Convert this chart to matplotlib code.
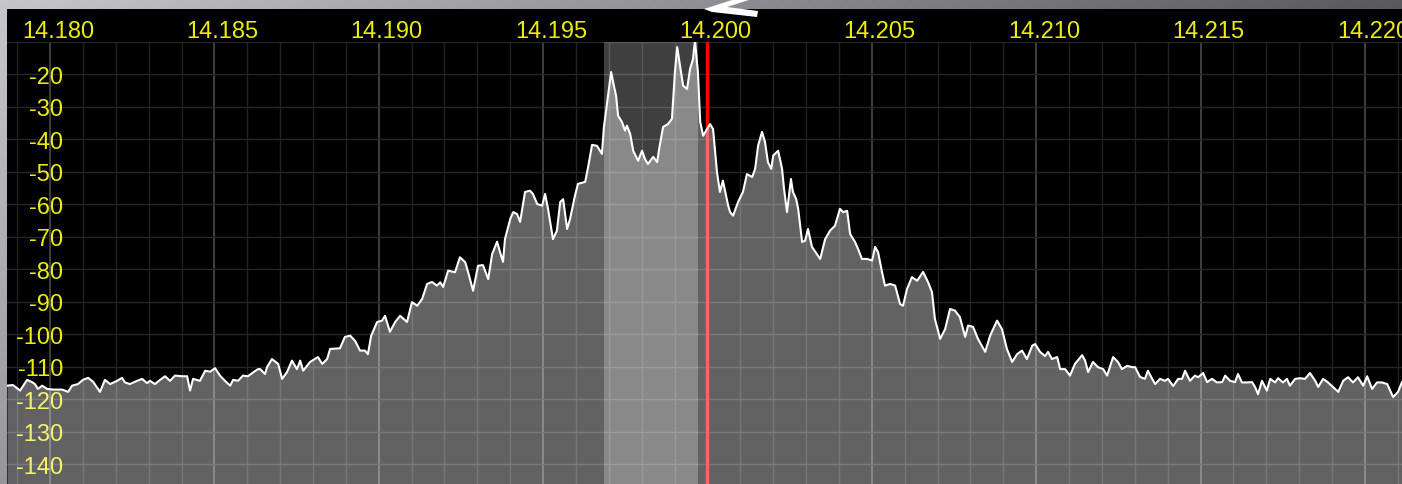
import numpy as np
import matplotlib
matplotlib.use("Agg")
import matplotlib.pyplot as plt
from matplotlib.transforms import ScaledTranslation
from matplotlib.patches import Rectangle, Polygon

# spectrum trace: frequency (kHz) and level (dB)
freq_khz = [
    14178.69, 14178.87, 14179.09, 14179.30, 14179.45, 14179.54, 14179.63, 14179.76, 14179.91, 14180.09,
    14180.37, 14180.55, 14180.67, 14180.85, 14181.00, 14181.16, 14181.31, 14181.52, 14181.67, 14181.83,
    14182.04, 14182.19, 14182.28, 14182.43, 14182.65, 14182.80, 14182.95, 14183.04, 14183.19, 14183.35,
    14183.50, 14183.65, 14183.80, 14184.02, 14184.17, 14184.26, 14184.35, 14184.56, 14184.72, 14184.87,
    14185.02, 14185.17, 14185.32, 14185.48, 14185.57, 14185.72, 14185.87, 14186.02, 14186.18, 14186.33,
    14186.39, 14186.54, 14186.60, 14186.75, 14186.94, 14187.06, 14187.21, 14187.36, 14187.51, 14187.61,
    14187.70, 14187.91, 14188.15, 14188.28, 14188.43, 14188.52, 14188.82, 14188.97, 14189.13, 14189.28,
    14189.43, 14189.58, 14189.67, 14189.77, 14189.95, 14190.10, 14190.19, 14190.34, 14190.50, 14190.65,
    14190.86, 14191.01, 14191.17, 14191.32, 14191.47, 14191.62, 14191.77, 14191.87, 14191.96, 14192.11,
    14192.32, 14192.47, 14192.63, 14192.72, 14192.87, 14193.02, 14193.17, 14193.33, 14193.45, 14193.60,
    14193.69, 14193.78, 14193.84, 14194.00, 14194.09, 14194.21, 14194.30, 14194.45, 14194.60, 14194.69,
    14194.82, 14194.97, 14195.06, 14195.15, 14195.30, 14195.42, 14195.52, 14195.61, 14195.73, 14195.82,
    14195.97, 14196.06, 14196.28, 14196.37, 14196.49, 14196.64, 14196.79, 14196.85, 14196.95, 14197.07,
    14197.13, 14197.22, 14197.28, 14197.40, 14197.49, 14197.55, 14197.65, 14197.74, 14197.89, 14198.01,
    14198.10, 14198.19, 14198.35, 14198.47, 14198.53, 14198.65, 14198.80, 14198.92, 14199.01, 14199.08,
    14199.17, 14199.26, 14199.38, 14199.47, 14199.56, 14199.62, 14199.71, 14199.78, 14199.87, 14199.99,
    14200.08, 14200.17, 14200.29, 14200.38, 14200.47, 14200.63,
    14200.69, 14200.78, 14200.93, 14201.08, 14201.20, 14201.36, 14201.45, 14201.54, 14201.66, 14201.75,
    14201.84, 14201.94, 14202.00, 14202.15, 14202.27, 14202.33, 14202.42, 14202.54, 14202.60, 14202.70,
    14202.76, 14202.88, 14202.97, 14203.06, 14203.18, 14203.33, 14203.43, 14203.58, 14203.73, 14203.88,
    14204.03, 14204.13, 14204.25, 14204.34, 14204.49, 14204.58, 14204.70, 14204.86, 14205.01, 14205.10,
    14205.19, 14205.31, 14205.40, 14205.56, 14205.71, 14205.86, 14205.95, 14206.07, 14206.22, 14206.38,
    14206.56, 14206.71, 14206.83, 14206.92, 14207.08, 14207.23, 14207.38, 14207.53, 14207.68, 14207.84,
    14207.93, 14208.08, 14208.23, 14208.45, 14208.60, 14208.81, 14208.96, 14209.11, 14209.27, 14209.42,
    14209.57, 14209.72, 14209.88, 14209.97, 14210.12, 14210.27, 14210.36, 14210.48, 14210.64, 14210.73,
    14210.88, 14211.03, 14211.18, 14211.40, 14211.49, 14211.58, 14211.73, 14211.88, 14212.04, 14212.16,
    14212.34, 14212.49, 14212.61, 14212.77, 14212.92, 14213.01, 14213.16, 14213.31, 14213.40, 14213.53,
    14213.62, 14213.77, 14213.92, 14214.01, 14214.17, 14214.32, 14214.44, 14214.53, 14214.68,
    14214.83, 14214.93, 14215.08, 14215.20, 14215.35, 14215.50, 14215.66, 14215.75, 14215.90, 14216.05,
    14216.14, 14216.26, 14216.42, 14216.57, 14216.66, 14216.75, 14216.87, 14217.02, 14217.12, 14217.27,
    14217.36, 14217.51, 14217.63, 14217.72, 14217.88, 14218.03, 14218.18, 14218.33, 14218.49, 14218.58,
    14218.73, 14218.88, 14219.03, 14219.19, 14219.34, 14219.49, 14219.64, 14219.79, 14219.95, 14220.07,
    14220.22, 14220.37, 14220.52, 14220.68, 14220.77, 14220.86, 14221.01, 14221.13,
]
level_db = [
    -115.9, -115.7, -117.4, -114.1, -114.8, -115.4, -116.9, -115.9, -116.9, -117.1,
    -117.1, -117.8, -115.9, -115.4, -114.1, -113.5, -114.7, -117.8, -114.1, -115.4,
    -114.4, -113.5, -114.9, -115.4, -114.4, -113.8, -115.1, -114.4, -115.4, -114.1,
    -113.0, -114.4, -112.8, -113.0, -113.0, -117.4, -113.8, -114.4, -111.3, -111.6,
    -110.5, -112.8, -114.4, -115.9, -114.1, -114.4, -112.8, -113.0, -111.8, -110.8,
    -110.8, -112.3, -110.2, -107.7, -109.2, -113.8, -111.7, -108.2, -110.8, -108.2,
    -111.3, -108.6, -107.1, -109.2, -107.7, -104.6, -104.4, -100.9, -100.5, -102.1,
    -105.1, -105.1, -106.2, -100.5, -96.3, -95.9, -94.4, -99.3, -96.3, -94.4,
    -96.3, -90.2, -91.3, -89.2, -84.6, -84.0, -85.1, -84.1, -85.5, -80.5,
    -81.0, -76.4, -77.9, -81.0, -86.7, -79.0, -78.8, -83.1, -75.4, -71.6,
    -74.8, -77.8, -70.8, -64.6, -62.5, -63.1, -65.5, -56.3, -55.9, -56.9,
    -60.0, -60.5, -56.9, -61.5, -70.8, -68.2, -59.4, -58.5, -67.7, -64.6,
    -57.4, -53.8, -53.2, -48.6, -41.8, -42.1, -44.6, -36.3, -28.6, -19.4,
    -22.5, -26.7, -32.8, -34.8, -37.4, -35.9, -38.5, -43.6, -46.7, -43.6,
    -46.2, -47.7, -45.5, -47.1, -43.1, -36.3, -35.4, -33.8, -19.4, -11.7,
    -17.8, -23.6, -24.6, -18.5, -15.4, -9.8, -19.4, -34.8, -39.0, -36.9,
    -35.4, -36.9, -50.2, -56.3, -52.8, -60.5,
    -62.5, -63.6, -59.4, -56.3, -50.8, -51.7, -49.2, -42.1, -37.8, -40.9,
    -47.1, -49.2, -45.1, -43.6, -49.2, -55.4, -62.5, -52.3, -56.3, -58.5,
    -61.5, -71.7, -71.3, -67.7, -73.2, -75.4, -76.9, -70.8, -68.2, -66.7,
    -61.5, -62.5, -62.1, -69.2, -71.7, -73.8, -76.9, -76.9, -77.4, -73.2,
    -74.8, -80.9, -85.1, -84.6, -85.1, -90.8, -91.3, -86.2, -82.5, -83.6,
    -80.9, -84.0, -87.1, -95.4, -101.5, -98.5, -92.3, -92.8, -94.8, -100.9,
    -97.4, -97.8, -101.5, -105.5, -100.5, -95.9, -98.5, -104.6, -108.6, -106.2,
    -105.1, -107.7, -103.6, -103.1, -105.5, -106.8, -105.5, -107.7, -107.1, -110.8,
    -110.8, -112.8, -109.2, -106.5, -108.2, -111.7, -108.6, -110.2, -110.8, -112.8,
    -107.1, -108.6, -110.8, -109.8, -110.2, -110.2, -113.2, -113.8, -111.3, -113.8,
    -115.4, -113.8, -114.4, -113.8, -116.0, -113.8, -113.8, -111.3, -114.4,
    -112.8, -113.3, -112.0, -114.8, -113.8, -114.9, -114.8, -112.8, -114.4, -114.8,
    -112.3, -114.9, -114.9, -114.8, -116.3, -118.5, -114.4, -117.4, -113.8, -114.9,
    -113.6, -114.9, -113.8, -115.9, -113.8, -113.6, -113.8, -112.0, -114.4, -116.3,
    -113.8, -114.9, -116.3, -117.8, -114.4, -113.3, -114.9, -113.3, -115.9, -113.0,
    -116.9, -114.9, -114.9, -115.4, -117.4, -119.4, -117.8, -114.8,
]

x_ticks = [14180, 14185, 14190, 14195, 14200, 14205, 14210, 14215, 14220]
x_labels = ["14.180", "14.185", "14.190", "14.195", "14.200", "14.205", "14.210", "14.215", "14.220"]
y_ticks = [-20, -30, -40, -50, -60, -70, -80, -90, -100, -110, -120, -130, -140]

vfo_khz = 14200.0
filter_lo, filter_hi = 14196.85, 14199.71
x_range = (14178.69, 14221.13)
y_range = (-146.15, -10.0)

W, H, DPI = 1402, 485, 100
YELLOW = "#ecec12"
plt.rcParams["font.family"] = ["Liberation Sans", "DejaVu Sans"]

fig = plt.figure(figsize=(W / DPI, H / DPI), dpi=DPI)

# window backdrop (grey gradient)
bg = fig.add_axes([0, 0, 1, 1])
bg.set_axis_off()
yy, xx = np.mgrid[0:H, 0:W]
v = np.clip(198 - 0.078 * xx - 0.1 * yy, 60, 210) / 255.0
bg.imshow(np.dstack([v, v, np.clip(v + 0.025, 0, 1)]), extent=[0, W, H, 0],
          aspect="auto", interpolation="bilinear")
bg.set_xlim(0, W); bg.set_ylim(H, 0)
bg.add_patch(Rectangle((7, 10), W - 7, 33, color="black", lw=0, zorder=2))
# mouse pointer poking into the top edge, over the label strip
bg.add_patch(Polygon([(704, 10), (735, 0), (752, 0), (727, 8), (758, 12),
                      (757, 18), (712, 13)], closed=True, color="white", lw=0, zorder=3))

# spectrum panel
ax = fig.add_axes([7 / W, 0, (W - 7) / W, (H - 42.5) / H])
ax.set_facecolor("black")
ax.set_xlim(*x_range)
ax.set_ylim(*y_range)
for s in ax.spines.values():
    s.set_visible(False)
ax.set_xticks(x_ticks)
ax.set_xticks(np.arange(14179, 14222, 1), minor=True)
ax.set_yticks(y_ticks + [-10])
ax.tick_params(which="both", length=0, labelbottom=False, labelleft=False)
ax.set_axisbelow(True)
ax.grid(which="major", axis="x", color="#4a4a4a", lw=1.2)
ax.grid(which="minor", axis="x", color="#222222", lw=1.0)
ax.grid(which="major", axis="y", color="#262626", lw=1.0)

ax.axvline(vfo_khz, color="#ff0000", lw=2.4, zorder=0.8)

# frequency labels in the strip above the panel
xoff = ax.get_xaxis_transform() + ScaledTranslation(0.08, 0.042, fig.dpi_scale_trans)
for f, lab in zip(x_ticks, x_labels):
    ax.text(f, 1.0, lab, transform=xoff, ha="center", va="baseline",
            color=YELLOW, fontsize=17, clip_on=False)

# level labels sit under the translucent fill
yoff = ax.get_yaxis_transform() + ScaledTranslation(0.56, -0.085, fig.dpi_scale_trans)
for d in y_ticks:
    ax.text(0, d, str(d), transform=yoff, ha="right", va="baseline",
            color=YELLOW, fontsize=17, zorder=0.9)

ax.fill_between(freq_khz, level_db, y_range[0], color="white", alpha=0.39, lw=0, zorder=1)
ax.axvspan(filter_lo, filter_hi, color="white", alpha=0.25, lw=0, zorder=2)
ax.plot(freq_khz, level_db, color="white", lw=1.5, zorder=3)

fig.savefig("out.png", dpi=DPI, facecolor="black")
